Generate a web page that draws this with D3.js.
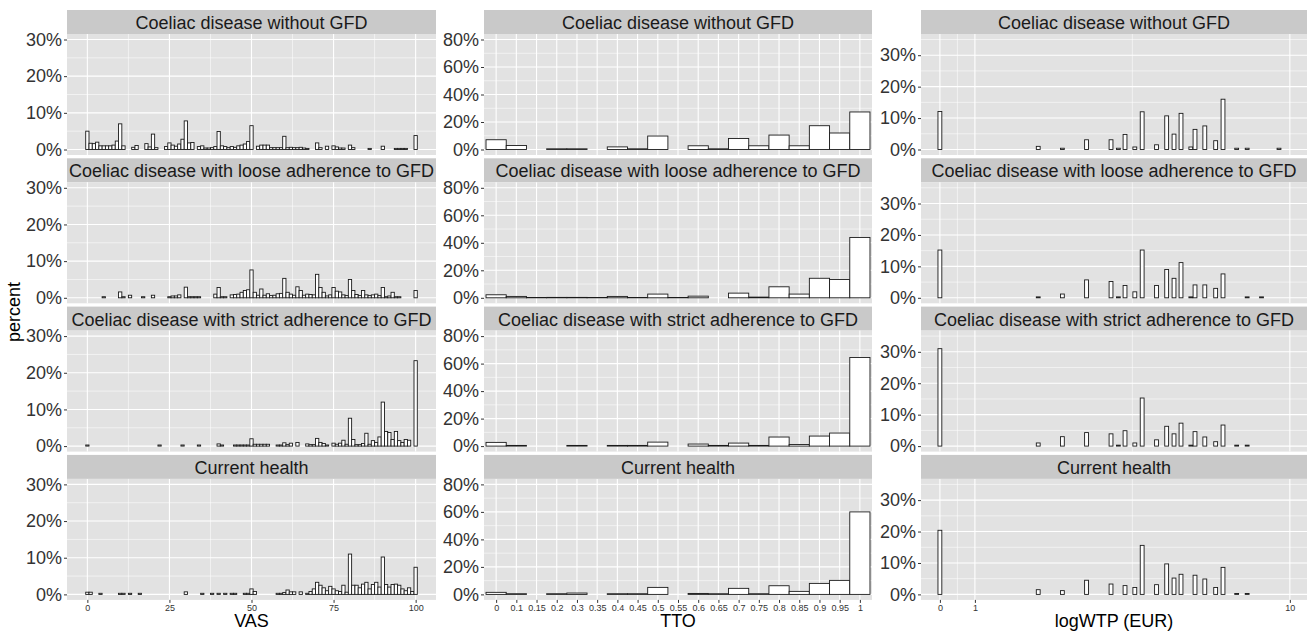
<!DOCTYPE html>
<html>
<head>
<meta charset="utf-8">
<script src="https://cdn.jsdelivr.net/npm/d3@7"></script>
<style>
  body { margin: 0; background: #fff; }
  svg { display: block; font-family: "Liberation Sans", Arial, sans-serif; }
</style>
</head>
<body>
<svg id="chart" width="1309" height="631"></svg>
<script>
// Facet titles (one per row)
const rowTitles = [
  "Coeliac disease without GFD",
  "Coeliac disease with loose adherence to GFD",
  "Coeliac disease with strict adherence to GFD",
  "Current health"
];

// VAS: [score, percent]
const vasWithout = [[0,5.0],[1,1.7],[2,1.6],[3,2.0],[4,1.0],[5,1.0],[6,1.0],[7,1.0],[8,1.2],[9,2.3],[10,7.0],[11,1.0],
  [14,0.6],[15,1.1],[18,1.6],[19,0.7],[20,4.2],[21,0.5],
  [24,0.8],[25,1.8],[26,1.2],[27,0.9],[28,1.5],[29,2.8],[30,7.8],[31,1.8],[32,1.9],[34,0.8],[35,1.0],
  [36,0.4],[37,0.4],[38,0.5],[39,0.8],[40,4.9],[41,1.0],[42,0.8],[43,0.5],[44,0.8],[45,0.6],[46,1.0],[47,1.2],[48,1.5],[49,2.2],[50,6.5],
  [52,0.9],[53,1.2],[54,1.2],[55,1.2],[56,0.5],[57,0.5],[58,0.5],[59,0.5],[60,3.6],[61,0.5],[62,0.6],[63,0.5],[64,0.5],[65,0.6],[66,0.4],[67,0.3],
  [70,1.8],[71,0.5],[73,0.9],[75,1.0],[76,0.7],[77,0.4],[78,0.4],[80,1.2],[81,0.5],
  [86,0.3],[90,0.9],[94,0.3],[95,0.3],[96,0.3],[97,0.3],[100,3.8]];
const vasLoose = [[5,0.3],[10,1.6],[11,0.3],[13,0.7],[17,0.3],[20,0.7],[25,0.3],[26,0.5],[27,0.5],[28,0.8],[30,2.9],
  [31,0.3],[32,0.3],[33,0.3],[34,0.3],[39,1.0],[40,2.8],[41,0.3],[42,0.3],
  [44,0.8],[45,0.9],[46,1.0],[47,1.5],[48,2.0],[49,2.2],[50,7.6],[51,1.5],[52,0.7],[53,2.4],[54,0.7],[55,1.1],[56,0.6],[57,0.7],[58,1.1],[59,1.2],
  [60,5.3],[61,1.5],[62,1.0],[63,0.7],[64,3.0],[65,2.0],[66,0.7],[67,1.0],[68,0.9],[69,0.8],[70,6.4],[71,2.8],[72,1.5],[73,0.5],[74,0.8],
  [75,2.8],[76,1.8],[77,1.6],[78,0.8],[79,0.6],[80,5.0],[81,2.0],[82,0.9],[83,0.6],[84,2.0],[85,0.8],[86,0.6],[87,0.8],[88,1.0],[89,0.6],
  [90,2.8],[91,0.3],[92,0.5],[93,1.5],[94,0.3],[95,0.3],[100,2.0]];
const vasStrict = [[0,0.3],[22,0.3],[29,0.3],[34,0.3],[40,0.6],[41,0.3],[45,0.3],[46,0.3],[47,0.3],[48,0.3],[49,0.3],[50,2.0],
  [51,0.5],[52,0.5],[53,0.5],[54,0.5],[55,0.5],[58,0.3],[59,0.3],[60,0.9],[61,0.4],[62,0.8],[64,1.0],[67,0.6],[68,0.4],[69,0.4],
  [70,2.1],[71,1.0],[72,0.7],[73,0.3],[75,0.8],[76,0.5],[77,0.8],[78,1.6],[79,0.5],[80,7.6],[81,1.8],[82,0.4],[83,0.4],[84,0.7],
  [85,3.5],[86,0.5],[87,1.5],[88,1.0],[89,2.5],[90,12.0],[91,4.0],[92,3.7],[93,1.8],[94,4.0],[95,1.5],[96,1.0],[97,1.8],[98,1.6],[100,23.3]];
const vasCurrent = [[0,0.6],[1,0.6],[4,0.3],[10,0.3],[11,0.3],[13,0.3],[16,0.3],[30,0.7],[35,0.3],[38,0.3],[40,0.3],[42,0.3],
  [44,0.3],[45,0.3],[48,0.3],[49,0.3],[50,1.5],[51,0.8],[58,0.3],[59,0.3],[60,0.5],[61,1.2],[62,0.7],[63,0.7],[65,0.7],[67,0.3],
  [68,0.8],[69,1.5],[70,3.3],[71,2.5],[72,1.8],[73,1.0],[74,2.2],[75,1.5],[76,1.0],[77,0.8],[78,2.5],[79,0.6],[80,11.0],[81,2.5],
  [82,2.5],[83,1.8],[84,2.8],[85,3.3],[86,1.5],[87,2.7],[88,3.3],[89,2.0],[90,10.2],[91,2.7],[92,2.0],[93,2.7],[94,2.8],[95,2.5],
  [96,1.5],[97,1.0],[98,1.8],[99,0.8],[100,7.4]];

// TTO: one value per labelled slot
const ttoLabels = ["0","0.1","0.15","0.2","0.3","0.35","0.4","0.45","0.5","0.55","0.6","0.65","0.7","0.75","0.8","0.85","0.9","0.95","1"];
const ttoWithout = [7.1,2.9,0,0.5,0.5,0,1.9,0.5,9.8,0,2.7,0.5,8.0,2.7,10.5,2.7,17.3,12.0,27.3];
const ttoLoose   = [2.2,1.0,0.2,0.3,0.3,0.2,1.0,0.2,2.7,0.2,1.2,0,3.4,0.5,8.0,2.7,14.2,13.3,43.9];
const ttoStrict  = [2.7,0.5,0,0,0.5,0,0.5,0.5,2.9,0,1.5,0.5,2.2,0.5,6.6,1.2,7.3,9.5,64.4];
const ttoCurrent = [1.5,0.5,0,0.5,1.0,0,0.5,0.5,5.1,0,0.7,0.5,4.4,0.5,6.3,2.2,8.0,10.2,60.0];

// logWTP: bin positions and percents per row
const wtpBins    = [0,2.81,3.50,4.19,4.89,5.10,5.29,5.57,5.78,6.19,6.48,6.69,6.89,7.17,7.29,7.57,7.88,8.09,8.48,8.78,9.19,9.69];
const wtpWithout = [12.1,1.0,0.4,3.1,3.1,0.4,4.8,0.8,12.0,1.5,10.7,4.9,11.5,0.8,6.4,7.5,2.8,16.0,0.4,0.4,0,0.4];
const wtpLoose   = [15.2,0.3,1.2,5.7,5.2,0.3,3.9,1.9,15.2,3.9,9.0,6.2,11.2,0.3,4.1,4.1,3.0,7.6,0,0.3,0.3,0];
const wtpStrict  = [31.0,1.0,3.0,4.3,3.9,0.3,4.9,1.0,15.3,2.0,6.3,3.9,7.3,0.3,4.6,2.9,1.4,6.7,0.3,0.3,0,0];
const wtpCurrent = [20.4,1.5,1.2,4.5,3.3,0,2.8,2.2,15.6,3.1,9.7,5.2,6.4,0,6.1,4.9,2.2,8.6,0.3,0.3,0,0];

const vasTicks = [0, 25, 50, 75, 100];
const wtpTicks = [0, 1, 10];

// ---- layout ----
const svg = d3.select("#chart");
const topY = 10, rowPitch = 148.3, stripH = 24, panelH = 121;
const panelBg = "#E2E2E2", stripBg = "#C9C9C9", tickCol = "#333";

const columns = [
  {
    x0: 67, x1: 436, title: "VAS",
    xDomain: [-6.2, 106.2], yDomain: [-1.5, 31.5],
    yTicks: [0, 10, 20, 30], yMinor: [5, 15, 25],
    xTicks: vasTicks, xMinor: [12.5, 37.5, 62.5, 87.5],
    xLabel: d => d,
    rows: [vasWithout, vasLoose, vasStrict, vasCurrent].map(r => r.map(([v, p]) => ({lo: v - 0.5, hi: v + 0.5, p})))
  },
  {
    x0: 484, x1: 872, title: "TTO",
    xDomain: [-0.6, 18.6], yDomain: [-4, 84],
    yTicks: [0, 20, 40, 60, 80], yMinor: [10, 30, 50, 70],
    xTicks: d3.range(ttoLabels.length), xMinor: [],
    xLabel: i => ttoLabels[i],
    rows: [ttoWithout, ttoLoose, ttoStrict, ttoCurrent].map(r => r.map((p, i) => ({lo: i - 0.5, hi: i + 0.5, p})))
  },
  {
    x0: 921, x1: 1307, title: "logWTP (EUR)",
    xDomain: [-0.54, 10.49], yDomain: [-1.75, 36.75],
    yTicks: [0, 10, 20, 30], yMinor: [5, 15, 25, 35],
    xTicks: wtpTicks, xMinor: [0.5, 5.5],
    xLabel: d => d,
    rows: [wtpWithout, wtpLoose, wtpStrict, wtpCurrent].map(r => r.map((p, i) => ({lo: wtpBins[i] - 0.055, hi: wtpBins[i] + 0.055, p})))
  }
];

columns.forEach(col => {
  const x = d3.scaleLinear().domain(col.xDomain).range([col.x0, col.x1]);
  col.rows.forEach((bins, r) => {
    const sTop = topY + r * rowPitch;
    const pTop = sTop + stripH;
    const y = d3.scaleLinear().domain(col.yDomain).range([pTop + panelH, pTop]);
    const g = svg.append("g");

    // strip
    g.append("rect").attr("x", col.x0).attr("y", sTop).attr("width", col.x1 - col.x0).attr("height", stripH).attr("fill", stripBg);
    g.append("text").attr("x", (col.x0 + col.x1) / 2).attr("y", sTop + stripH / 2 + 1)
      .attr("text-anchor", "middle").attr("dominant-baseline", "central")
      .attr("font-size", 18).attr("fill", "#1A1A1A").text(rowTitles[r]);

    // panel + grid
    g.append("rect").attr("x", col.x0).attr("y", pTop).attr("width", col.x1 - col.x0).attr("height", panelH).attr("fill", panelBg);
    col.yMinor.forEach(v => g.append("line").attr("x1", col.x0).attr("x2", col.x1).attr("y1", y(v)).attr("y2", y(v)).attr("stroke", "#fff").attr("stroke-width", 0.55));
    col.xMinor.forEach(v => g.append("line").attr("y1", pTop).attr("y2", pTop + panelH).attr("x1", x(v)).attr("x2", x(v)).attr("stroke", "#fff").attr("stroke-width", 0.55));
    col.yTicks.forEach(v => g.append("line").attr("x1", col.x0).attr("x2", col.x1).attr("y1", y(v)).attr("y2", y(v)).attr("stroke", "#fff").attr("stroke-width", 1.1));
    col.xTicks.forEach(v => g.append("line").attr("y1", pTop).attr("y2", pTop + panelH).attr("x1", x(v)).attr("x2", x(v)).attr("stroke", "#fff").attr("stroke-width", 1.1));

    // bars
    g.selectAll("rect.bar").data(bins.filter(d => d.p > 0)).join("rect")
      .attr("class", "bar")
      .attr("x", d => x(d.lo)).attr("width", d => x(d.hi) - x(d.lo))
      .attr("y", d => y(d.p)).attr("height", d => y(0) - y(d.p))
      .attr("fill", "#fff").attr("stroke", "#1A1A1A").attr("stroke-width", 0.9);

    // y axis
    const yAxis = d3.axisLeft(y).tickValues(col.yTicks).tickFormat(d => d + "%").tickSize(3).tickPadding(2);
    const ya = g.append("g").attr("transform", `translate(${col.x0},0)`).call(yAxis);
    ya.select(".domain").remove();
    ya.selectAll("line").attr("stroke", tickCol);
    ya.selectAll("text").attr("font-size", 18).attr("fill", tickCol).attr("font-family", null);

    // x axis on bottom row only
    if (r === 3) {
      const xAxis = d3.axisBottom(x).tickValues(col.xTicks).tickFormat(col.xLabel).tickSize(3).tickPadding(2);
      const xa = g.append("g").attr("transform", `translate(0,${pTop + panelH})`).call(xAxis);
      xa.select(".domain").remove();
      xa.selectAll("line").attr("stroke", tickCol);
      xa.selectAll("text").attr("font-size", 9).attr("fill", tickCol).attr("font-family", null);
      svg.append("text").attr("x", (col.x0 + col.x1) / 2).attr("y", 627)
        .attr("text-anchor", "middle").attr("font-size", 18).attr("fill", "#000").text(col.title);
    }
  });
});

// shared y title
svg.append("text").attr("transform", "translate(14,312) rotate(-90)")
  .attr("text-anchor", "middle").attr("dominant-baseline", "central")
  .attr("font-size", 18).attr("fill", "#000").text("percent");
</script>
</body>
</html>
